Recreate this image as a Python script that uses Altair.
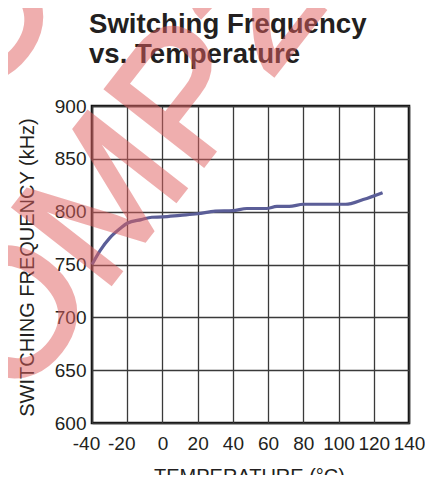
import altair as alt
import pandas as pd

# data
temps = [-40, -35.5, -30, -24, -20, -12, -6, 0, 10, 20, 30, 40, 48, 59, 65, 72, 80, 90, 104, 114, 125]
freqs = [750, 763, 775, 784, 789, 792.5, 794.7, 795, 796.5, 798, 800.5, 801, 803, 803, 805, 805, 807, 807, 807, 811.5, 818]
x_ticks = [-40, -20, 0, 20, 40, 60, 80, 100, 120, 140]
y_ticks = [600, 650, 700, 750, 800, 850, 900]
title_lines = ["Switching Frequency", "vs. Temperature"]
watermark = "COMP23"

df = pd.DataFrame({"t": temps, "f": freqs})
one = pd.DataFrame({"k": [0]})

FONT = "Liberation Sans"
INK = "#231f20"

line = alt.Chart(df).mark_line(
    color="#5b5e98", strokeWidth=3.2, interpolate="monotone"
).encode(
    x=alt.X("t:Q", scale=alt.Scale(domain=[-40, 140], nice=False),
            axis=alt.Axis(values=x_ticks, title="TEMPERATURE (°C)", ticks=False, domain=False,
                          labelExpr="'' + datum.value",
                          labelOffset={"condition": {"test": "datum.value < 0", "value": -6}, "value": 0},
                          labelPadding=11, labelFontSize=19, labelFont=FONT, labelColor=INK,
                          titleFont=FONT, titleFontSize=20, titleFontWeight="normal", titleColor=INK,
                          titleX=157, titleY=53, titleBaseline="middle",
                          grid=True, gridColor="#3a3a3a", gridWidth=1.3, labelFlush=False)),
    y=alt.Y("f:Q", scale=alt.Scale(domain=[600, 900], nice=False),
            axis=alt.Axis(values=y_ticks, title="SWITCHING FREQUENCY (kHz)", ticks=False, domain=False,
                          labelPadding=6, labelFontSize=19, labelFont=FONT, labelColor=INK,
                          titleFont=FONT, titleFontSize=20, titleFontWeight="normal", titleColor=INK,
                          titleX=-65, titleY=161, titleBaseline="middle", titleAngle=270,
                          titleAlign="center",
                          grid=True, gridColor="#3a3a3a", gridWidth=1.3, labelFlush=False)),
)

t1 = alt.Chart(one).mark_text(
    text=title_lines[0], font=FONT, fontSize=27.6, fontWeight="bold", color=INK,
    align="left", baseline="alphabetic"
).encode(x=alt.value(-3), y=alt.value(-73))

t2 = alt.Chart(one).mark_text(
    text=title_lines[1], font=FONT, fontSize=27.6, fontWeight="bold", color=INK,
    align="left", baseline="alphabetic"
).encode(x=alt.value(-3), y=alt.value(-43))

wm_style = dict(text=watermark, font="Liberation Sans Narrow, Liberation Sans", fontSize=180,
                color="#e06060", opacity=0.5, stroke="#e06060", strokeWidth=4,
                align="center", baseline="alphabetic", angle=308)
wm1 = alt.Chart(one).mark_text(**wm_style).encode(x=alt.value(72), y=alt.value(110))
wm2 = alt.Chart(one).mark_text(**wm_style).encode(x=alt.value(38), y=alt.value(-186))

chart = alt.layer(line, t1, t2, wm1, wm2).properties(
    width=317, height=317,
    autosize=alt.AutoSizeParams(type="none"),
    padding={"left": 84, "top": 98, "right": 16, "bottom": 52},
    background="white",
).configure_view(stroke="#111111", strokeWidth=2.6)

chart.save("out.html", embed_options={"renderer": "svg", "actions": False})
